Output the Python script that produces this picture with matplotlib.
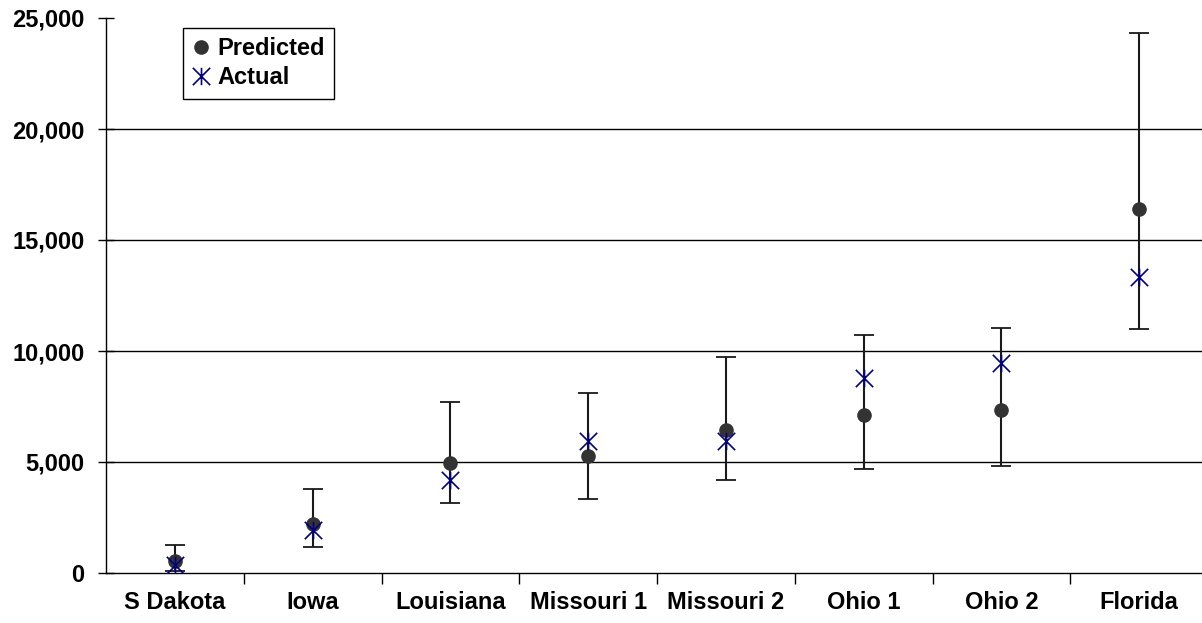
import matplotlib
matplotlib.use("Agg")
import matplotlib.pyplot as plt
from matplotlib.path import Path
from matplotlib.lines import Line2D
import numpy as np

plt.rcParams['font.family'] = ['Liberation Sans', 'DejaVu Sans']
plt.rcParams['font.weight'] = 'bold'

sites = ["S Dakota", "Iowa", "Louisiana", "Missouri 1", "Missouri 2",
         "Ohio 1", "Ohio 2", "Florida"]
predicted = [560, 2200, 4970, 5270, 6420, 7110, 7340, 16400]
actual = [380, 1940, 4190, 5960, 5950, 8800, 9460, 13350]
interval_low = [100, 1190, 3150, 3330, 4190, 4670, 4830, 10990]
interval_high = [1260, 3770, 7700, 8110, 9730, 10720, 11020, 24340]
y_ticks = [0, 5000, 10000, 15000, 20000, 25000]

# asterisk-like marker: an X crossed by a vertical stroke
star = Path(
    [(-1, -1), (1, 1), (-1, 1), (1, -1), (0, -1), (0, 1)],
    [Path.MOVETO, Path.LINETO, Path.MOVETO, Path.LINETO, Path.MOVETO, Path.LINETO],
)

FS = 17

fig = plt.figure(figsize=(12.02, 6.23), dpi=100)
ax = fig.add_axes([106 / 1202, 50 / 623, 1102 / 1202, 555 / 623])

x = np.arange(len(sites))
pred = np.array(predicted)
yerr = np.vstack([pred - np.array(interval_low), np.array(interval_high) - pred])

for g in y_ticks[1:-1]:
    ax.axhline(g, color='black', lw=1.0, zorder=1)

ax.errorbar(x, pred, yerr=yerr, fmt='none', ecolor='#1a1a1a', elinewidth=1.5,
            capsize=7, capthick=1.3, zorder=2)
ax.plot(x, pred, 'o', color='#333333', markersize=9.5, zorder=3, linestyle='none')
ax.plot(x, actual, linestyle='none', marker=star, markersize=12.5,
        markerfacecolor='none', markeredgecolor='#000080', markeredgewidth=1.2,
        zorder=4)

ax.set_xlim(-0.5, len(sites) - 0.5)
ax.set_ylim(0, 25000)
ax.set_yticks(y_ticks)
ax.set_yticklabels([f"{v:,}" for v in y_ticks], fontsize=FS, fontweight='bold')
ax.set_xticks(x)
ax.set_xticklabels(sites, fontsize=FS, fontweight='bold')
ax.set_xticks(np.arange(0.5, len(sites) - 0.5), minor=True)
ax.tick_params(axis='x', which='major', length=0, pad=13)
ax.tick_params(axis='x', which='minor', length=8, width=1, direction='out')
ax.tick_params(axis='y', which='major', length=11, width=1, direction='inout', pad=10)

for s in ['top', 'right']:
    ax.spines[s].set_visible(False)
for s in ['left', 'bottom']:
    ax.spines[s].set_color('black')
    ax.spines[s].set_linewidth(1.0)

handles = [
    Line2D([], [], linestyle='none', marker='o', color='#333333', markersize=9.5),
    Line2D([], [], linestyle='none', marker=star, markersize=12.5,
           markerfacecolor='none', markeredgecolor='#000080', markeredgewidth=1.2),
]
leg = ax.legend(handles, ["Predicted", "Actual"], loc='upper left',
                bbox_to_anchor=(77 / 1102, 545 / 555), fancybox=False,
                framealpha=1, edgecolor='black', handlelength=0.7,
                handletextpad=0.35, borderpad=0.4, labelspacing=0.25,
                borderaxespad=0, prop={'weight': 'bold', 'size': FS})
leg.get_frame().set_linewidth(1.0)

fig.savefig("out.png", dpi=100)
